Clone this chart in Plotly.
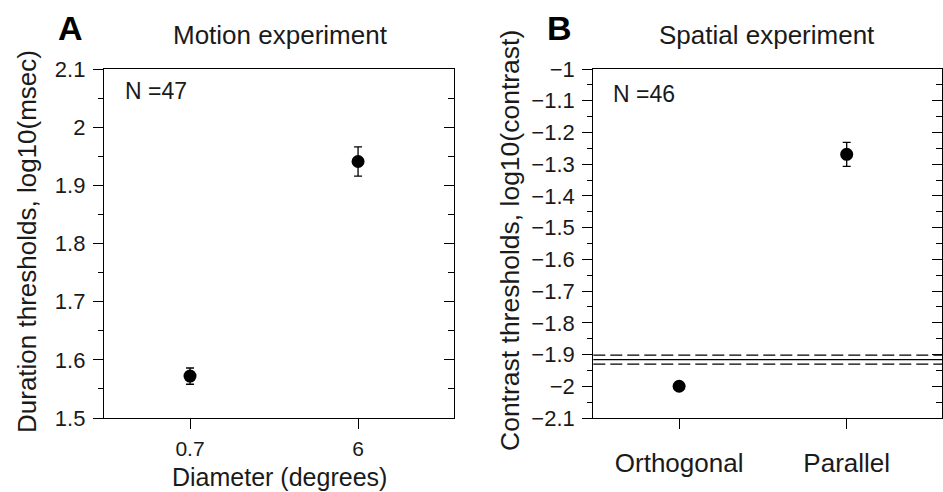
import plotly.graph_objects as go

# ---------------- data ----------------
motion_categories = ["0.7", "6"]
motion_values = [1.572, 1.941]
motion_errors = [0.014, 0.025]
motion_n_label = "N =47"

spatial_categories = ["Orthogonal", "Parallel"]
spatial_values = [-2.0, -1.269]
spatial_errors = [0.005, 0.038]
spatial_n_label = "N =46"

baseline_mean = -1.916
baseline_bounds = [-1.902, -1.930]

motion_yticks_range = [1.5, 2.1]
spatial_yticks_range = [-2.1, -1.0]

# ---------------- layout helpers ----------------
W, H = 943, 492
FONT = "Liberation Sans, Arial, Helvetica, sans-serif"
TXT = "#1a1a1a"


def px(x):
    return x / W


def py(y):
    return 1 - y / H


xdomA = [px(104), px(454)]
xdomB = [px(593.3), px(942.4)]
ydom = [py(418), py(69)]
xrange_cat = [-0.512, 1.571]

fig = go.Figure()

marker = dict(symbol="circle", size=13, color="black")
err_style = dict(type="data", color="black", thickness=1.3, width=4)

fig.add_trace(go.Scatter(
    x=motion_categories, y=motion_values, mode="markers", marker=marker,
    error_y=dict(array=motion_errors, **err_style),
    xaxis="x", yaxis="y", showlegend=False, hoverinfo="x+y"))
# companion (invisible) trace to render the right-hand inner-tick axis
fig.add_trace(go.Scatter(
    x=motion_categories, y=motion_values, mode="markers",
    marker=dict(opacity=0), xaxis="x", yaxis="y2",
    showlegend=False, hoverinfo="skip"))

fig.add_trace(go.Scatter(
    x=spatial_categories, y=spatial_values, mode="markers", marker=marker,
    error_y=dict(array=spatial_errors, **err_style),
    xaxis="x2", yaxis="y3", showlegend=False, hoverinfo="x+y"))
fig.add_trace(go.Scatter(
    x=spatial_categories, y=spatial_values, mode="markers",
    marker=dict(opacity=0), xaxis="x2", yaxis="y4",
    showlegend=False, hoverinfo="skip"))

# baseline lines in panel B
shapes = [dict(type="line", xref="x2 domain", yref="y3", x0=0, x1=1,
               y0=baseline_mean, y1=baseline_mean,
               line=dict(color="black", width=1.2))]
for b in baseline_bounds:
    shapes.append(dict(type="line", xref="x2 domain", yref="y3", x0=0, x1=1,
                       y0=b, y1=b,
                       line=dict(color="black", width=1.2, dash="12px,5px")))

axis_line = dict(showline=True, linecolor="black", linewidth=1.3,
                 showgrid=False, zeroline=False, automargin=False)

left_y_common = dict(
    **axis_line, ticks="outside", ticklen=10, tickwidth=1.3, tickcolor="black",
    dtick=0.1, minor=dict(dtick=0.05, ticks="outside", ticklen=5,
                          tickwidth=1.3, tickcolor="black"),
    tickfont=dict(family=FONT, size=22, color=TXT), ticklabelstandoff=3)

right_y_common = dict(
    **axis_line, ticks="inside", ticklen=10, tickwidth=1.3, tickcolor="black",
    dtick=0.1, minor=dict(dtick=0.05, ticks="inside", ticklen=6,
                          tickwidth=1.3, tickcolor="black"),
    showticklabels=False, side="right")

fig.update_layout(
    template="none",
    width=W, height=H, margin=dict(l=0, r=0, t=0, b=0, pad=0,
                                   autoexpand=False),
    paper_bgcolor="white", plot_bgcolor="white",
    font=dict(family=FONT, color=TXT),
    showlegend=False,
    shapes=shapes,
    xaxis=dict(**axis_line, domain=xdomA, anchor="y", type="category",
               categoryarray=motion_categories, range=xrange_cat,
               mirror=True, ticks="outside", ticklen=10, tickwidth=1.3,
               tickcolor="black", ticklabelstandoff=2,
               tickfont=dict(family=FONT, size=21, color=TXT)),
    yaxis=dict(**left_y_common, domain=ydom, anchor="x",
               range=motion_yticks_range),
    yaxis2=dict(**right_y_common, overlaying="y", matches="y", anchor="x",
                range=motion_yticks_range),
    xaxis2=dict(**axis_line, domain=xdomB, anchor="y3", type="category",
                categoryarray=spatial_categories, range=xrange_cat,
                mirror=True, ticks="outside", ticklen=10, tickwidth=1.3,
                tickcolor="black", ticklabelstandoff=12,
                tickfont=dict(family=FONT, size=26, color=TXT)),
    yaxis3=dict(**left_y_common, domain=ydom, anchor="x2",
                range=spatial_yticks_range),
    yaxis4=dict(**right_y_common, overlaying="y3", matches="y3", anchor="x2",
                range=spatial_yticks_range),
)

ann = []


def add_text(text, x, y, size, xanchor="center", yanchor="middle",
             bold=False, angle=0):
    ann.append(dict(
        text=f"<b>{text}</b>" if bold else text,
        xref="paper", yref="paper", x=px(x), y=py(y),
        xanchor=xanchor, yanchor=yanchor, showarrow=False, textangle=angle,
        font=dict(family=FONT, size=size, color="black" if bold else TXT)))


add_text("A", 70, 28, 34, bold=True)
add_text("B", 559, 28, 34, bold=True)
add_text("Motion experiment", 280, 35, 26)
add_text("Spatial experiment", 767, 35, 26)
add_text(motion_n_label, 123, 91, 23, xanchor="left")
add_text(spatial_n_label, 611, 94, 23, xanchor="left")
add_text("Diameter (degrees)", 279, 476.5, 25)
add_text("Duration thresholds, log10(msec)", 27, 242, 26, angle=-90)
add_text("Contrast thresholds, log10(contrast)", 510, 241, 26.5, angle=-90)

fig.update_layout(annotations=ann)

fig.write_html("out.html")
